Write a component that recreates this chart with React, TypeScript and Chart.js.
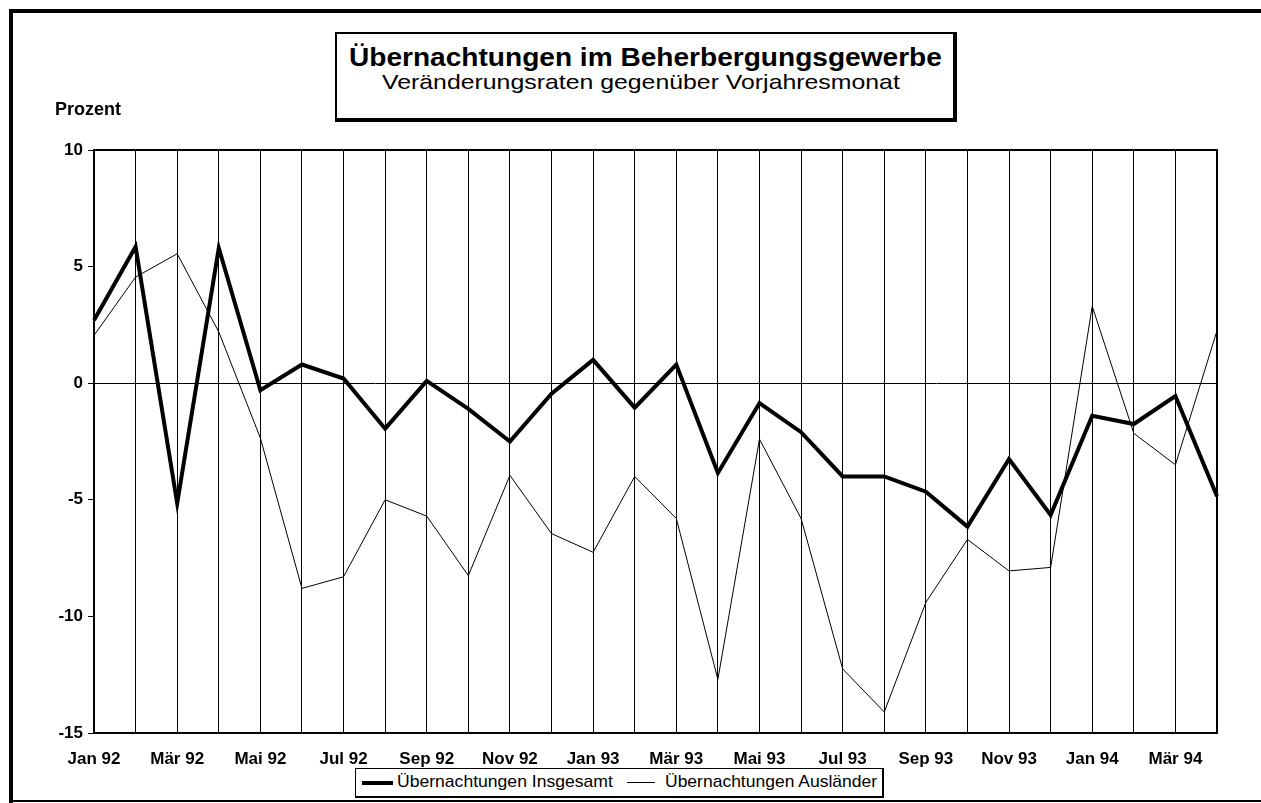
import React, { useEffect, useLayoutEffect, useRef } from "react";
import { Chart, registerables } from "chart.js";

Chart.register(...registerables);

const MONTHS = [
  "Jan 92", "Feb 92", "Mär 92", "Apr 92", "Mai 92", "Jun 92", "Jul 92", "Aug 92",
  "Sep 92", "Okt 92", "Nov 92", "Dez 92", "Jan 93", "Feb 93", "Mär 93", "Apr 93",
  "Mai 93", "Jun 93", "Jul 93", "Aug 93", "Sep 93", "Okt 93", "Nov 93", "Dez 93",
  "Jan 94", "Feb 94", "Mär 94", "Apr 94",
];

const INSGESAMT = [
  2.7, 5.85, -5.15, 5.8, -0.3, 0.8, 0.2, -1.95, 0.1, -1.1, -2.5, -0.45, 1.0, -1.05,
  0.8, -3.85, -0.85, -2.1, -4.0, -4.0, -4.65, -6.15, -3.25, -5.65, -1.4, -1.75, -0.55, -4.85,
];

const AUSLAENDER = [
  2.05, 4.55, 5.55, 2.2, -2.35, -8.8, -8.3, -5.0, -5.7, -8.25, -3.95, -6.45, -7.25, -4.0,
  -5.8, -12.7, -2.4, -5.8, -12.25, -14.1, -9.4, -6.7, -8.05, -7.9, 3.3, -2.15, -3.5, 2.25,
];

const Y_MIN = -15;
const Y_MAX = 10;
const Y_STEP = 5;

const TITLE = "Übernachtungen im Beherbergungsgewerbe";
const SUBTITLE = "Veränderungsraten gegenüber Vorjahresmonat";
const Y_UNIT = "Prozent";
const SERIES_NAMES = ["Übernachtungen Insgesamt", "Übernachtungen Ausländer"];

const FONT = "'Liberation Sans', Arial, Helvetica, sans-serif";

function StretchText(props: {
  text: string;
  left: number;
  top: number;
  width: number;
  size: number;
  weight: string;
}) {
  const ref = useRef<HTMLSpanElement>(null);
  useLayoutEffect(() => {
    const el = ref.current;
    if (!el) return;
    el.style.transform = "none";
    const w = el.offsetWidth;
    if (w > 0) el.style.transform = `scaleX(${props.width / w})`;
  }, [props.text, props.width]);
  return (
    <div
      style={{
        position: "absolute",
        left: props.left,
        top: props.top,
        width: props.width,
        height: props.size,
        whiteSpace: "nowrap",
      }}
    >
      <span
        ref={ref}
        style={{
          display: "inline-block",
          transformOrigin: "0 0",
          fontFamily: FONT,
          fontSize: props.size,
          fontWeight: props.weight as any,
          lineHeight: `${props.size}px`,
          color: "#000",
        }}
      >
        {props.text}
      </span>
    </div>
  );
}

const framePlugin = {
  id: "plotFrame",
  beforeDatasetsDraw(chart: any) {
    const { ctx, chartArea } = chart;
    ctx.save();
    ctx.strokeStyle = "#000";
    ctx.lineWidth = 2;
    ctx.strokeRect(chartArea.left, chartArea.top, chartArea.right - chartArea.left, chartArea.bottom - chartArea.top);
    ctx.restore();
  },
};

export default function App() {
  const canvasRef = useRef<HTMLCanvasElement>(null);

  useEffect(() => {
    if (!canvasRef.current) return;
    const chart = new Chart(canvasRef.current, {
      type: "line",
      data: {
        labels: MONTHS,
        datasets: [
          {
            label: SERIES_NAMES[0],
            data: INSGESAMT,
            borderColor: "#000",
            backgroundColor: "#000",
            borderWidth: 4,
            pointRadius: 0,
            tension: 0,
            borderJoinStyle: "miter",
            fill: false,
          },
          {
            label: SERIES_NAMES[1],
            data: AUSLAENDER,
            borderColor: "#000",
            backgroundColor: "#000",
            borderWidth: 1,
            pointRadius: 0,
            tension: 0,
            fill: false,
          },
        ],
      },
      options: {
        animation: false,
        responsive: false,
        maintainAspectRatio: false,
        devicePixelRatio: 1,
        layout: { padding: { left: 0, top: 150, right: 44, bottom: 0 } },
        plugins: {
          legend: { display: false },
          title: { display: false },
          tooltip: { enabled: false },
        },
        scales: {
          x: {
            type: "category",
            offset: false,
            grid: {
              color: "#000",
              lineWidth: 1,
              drawTicks: false,
              offset: false,
            },
            border: { display: true, color: "#000", width: 2 },
            ticks: {
              autoSkip: false,
              maxRotation: 0,
              minRotation: 0,
              padding: 16,
              color: "#000",
              font: { family: FONT, size: 17, weight: "bold" },
              callback: (_v: any, i: number) => (i % 2 === 0 ? MONTHS[i] : ""),
            },
            afterFit: (s: any) => {
              s.height = 70;
            },
          },
          y: {
            min: Y_MIN,
            max: Y_MAX,
            grid: {
              color: (c: any) => (c.tick && c.tick.value === 0 ? "#000" : "rgba(0,0,0,0)"),
              tickColor: "#000",
              tickLength: 6,
              lineWidth: 1,
            },
            border: { display: true, color: "#000", width: 2 },
            ticks: {
              stepSize: Y_STEP,
              padding: 5,
              color: "#000",
              font: { family: FONT, size: 17, weight: "bold" },
              callback: (v: any) => String(v),
            },
            afterFit: (s: any) => {
              s.width = 94;
            },
          },
        },
      },
      plugins: [framePlugin],
    });
    return () => chart.destroy();
  }, []);

  return (
    <div
      style={{
        position: "fixed",
        left: 0,
        top: 0,
        width: 1261,
        height: 803,
        overflow: "hidden",
        background: "#fff",
      }}
    >
      <canvas ref={canvasRef} width={1261} height={803} style={{ position: "absolute", left: 0, top: 0 }} />

      {/* outer frame */}
      <div style={{ position: "absolute", left: 9, top: 9, width: 4, height: 800, background: "#000" }} />
      <div style={{ position: "absolute", left: 9, top: 9, width: 1260, height: 4, background: "#000" }} />
      <div style={{ position: "absolute", left: 9, top: 800, width: 1260, height: 2, background: "#000" }} />

      {/* title box */}
      <div
        style={{
          position: "absolute",
          left: 335,
          top: 32,
          width: 616,
          height: 84,
          borderStyle: "solid",
          borderColor: "#000",
          borderWidth: "2px 4px 4px 2px",
          background: "#fff",
        }}
      />
      <StretchText text={TITLE} left={349} top={45} width={593} size={25} weight="bold" />
      <StretchText text={SUBTITLE} left={382} top={71} width={518} size={21} weight="normal" />

      <StretchText text={Y_UNIT} left={55} top={100} width={66} size={18} weight="bold" />

      {/* legend */}
      <div
        style={{
          position: "absolute",
          left: 355,
          top: 768,
          width: 526,
          height: 27,
          border: "1px solid #000",
          borderRightWidth: 2,
          borderBottomWidth: 2,
          background: "#fff",
        }}
      />
      <div style={{ position: "absolute", left: 362, top: 781, width: 31, height: 4, background: "#000" }} />
      <StretchText text={SERIES_NAMES[0]} left={397} top={773} width={216} size={17} weight="normal" />
      <div style={{ position: "absolute", left: 627, top: 782, width: 28, height: 1, background: "#000" }} />
      <StretchText text={SERIES_NAMES[1]} left={665} top={773} width={212} size={17} weight="normal" />
    </div>
  );
}
